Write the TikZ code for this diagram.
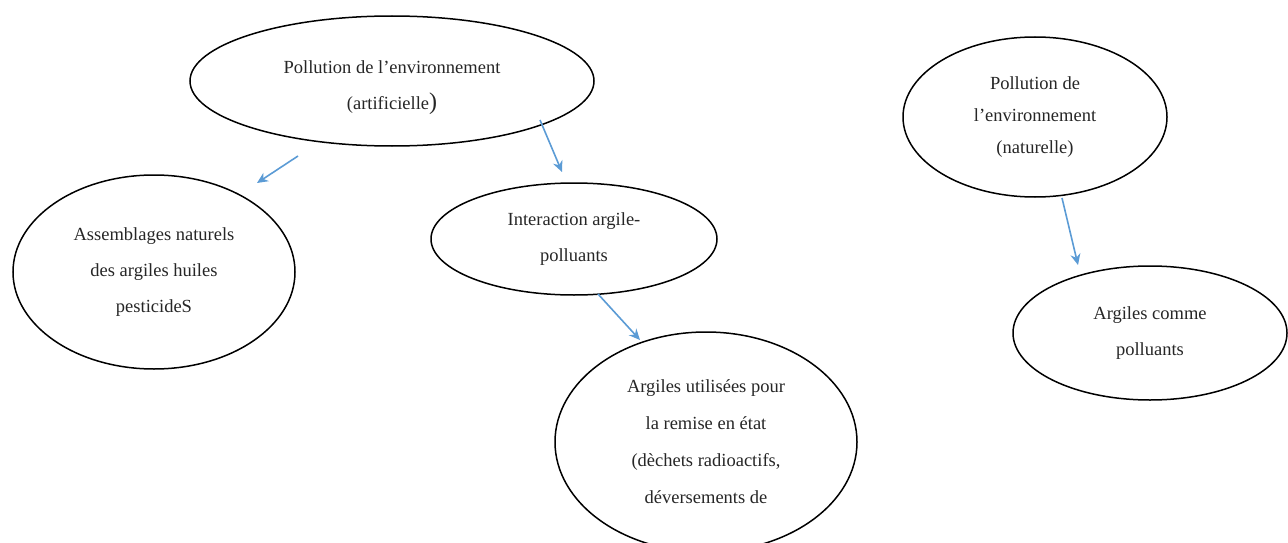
\documentclass[tikz,border=0pt]{standalone}
\usepackage{fontspec}
\setmainfont{Liberation Serif}
\usetikzlibrary{shapes.geometric,arrows.meta}
\definecolor{arrblue}{RGB}{91,155,213}
\tikzset{
  bubble/.style={draw=black, line width=1.5pt, ellipse, inner sep=0pt, align=center,
    font=\fontsize{18.5}{36}\selectfont, text=black!85},
  arr/.style={draw=arrblue, line width=1.6pt, -{Stealth[length=11pt,width=10pt]}}
}
\begin{document}
\begin{tikzpicture}[x=1pt,y=-1pt]
\useasboundingbox (0,0) rectangle (1288,543);
\node[bubble, minimum width=404pt, minimum height=130pt, font=\fontsize{18.5}{36}\selectfont] (artif) at (392,81)
  {\rule{0pt}{26pt}Pollution de l’environnement\\(artificielle{\fontsize{24}{24}\selectfont)}};
\node[bubble, minimum width=282pt, minimum height=194pt] (assembl) at (154,272)
  {Assemblages naturels\\des argiles huiles\\pesticideS};
\node[bubble, minimum width=286pt, minimum height=112pt] (inter) at (574,239)
  {Interaction argile-\\polluants};
\node[bubble, minimum width=302pt, minimum height=220pt, font=\fontsize{18.5}{37}\selectfont] (argutil) at (706,442)
  {Argiles utilisées pour\\la remise en état\\(dèchets radioactifs,\\déversements de};
\node[bubble, minimum width=264pt, minimum height=160pt, font=\fontsize{18.5}{32}\selectfont] (natur) at (1035,117)
  {Pollution de\\l’environnement\\(naturelle)};
\node[bubble, minimum width=274pt, minimum height=134pt] (argpol) at (1150,333)
  {Argiles comme\\polluants};
\coordinate (a1s) at (298,156);
\coordinate (a1e) at (257,183);
\coordinate (a2s) at (540,120);
\coordinate (a2e) at (562,172);
\coordinate (a3s) at (598,294);
\coordinate (a3e) at (640,340);
\coordinate (a4s) at (1062,198);
\coordinate (a4e) at (1078,265);
\draw[arr] (a1s) -- (a1e);
\draw[arr] (a2s) -- (a2e);
\draw[arr] (a3s) -- (a3e);
\draw[arr] (a4s) -- (a4e);
\end{tikzpicture}
\end{document}
